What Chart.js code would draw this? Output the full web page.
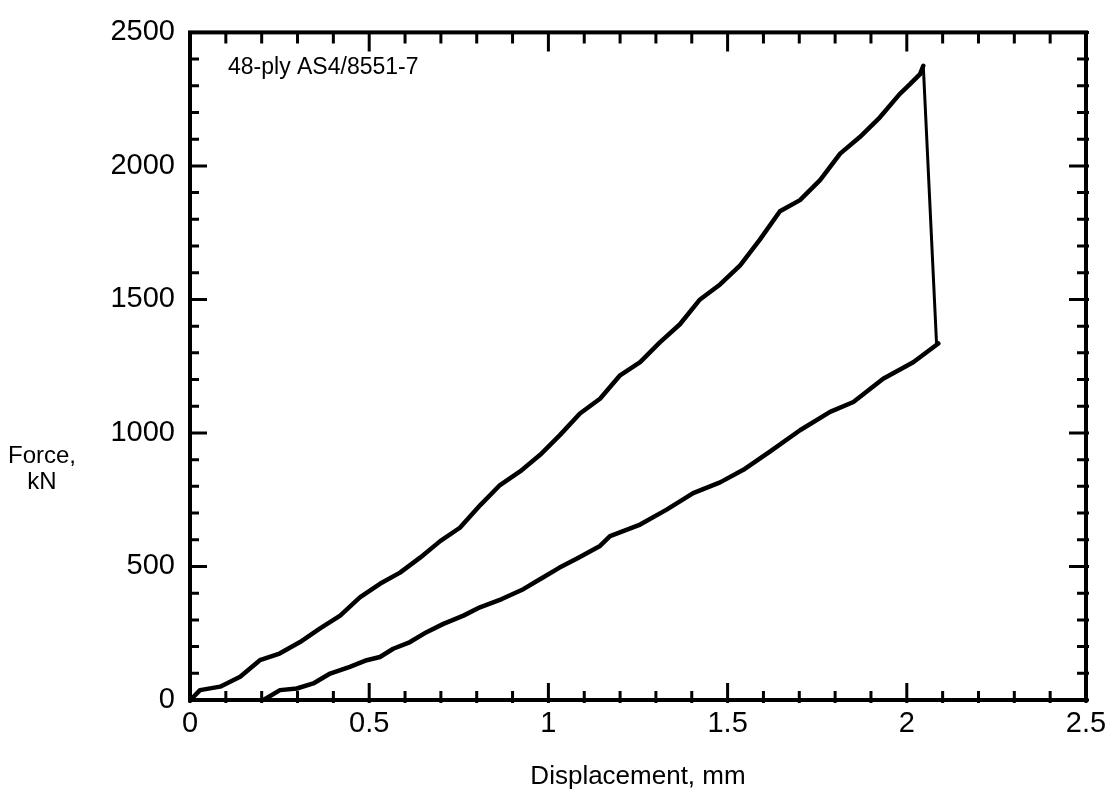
<!DOCTYPE html>
<html>
<head>
<meta charset="utf-8">
<title>Force vs displacement, 48-ply AS4/8551-7</title>
<script src="https://cdn.jsdelivr.net/npm/chart.js@4.4.1/dist/chart.umd.min.js"></script>
<style>
  html, body { margin: 0; padding: 0; background: #fff; }
  #wrap { width: 1116px; height: 794px; position: relative; }
</style>
</head>
<body>
<div id="wrap"><canvas id="chart" width="1116" height="794"></canvas></div>
<script>
// Loading branch: displacement (mm) and force (kN)
const loadDisp = [0, 0.01, 0.028, 0.084, 0.14, 0.195, 0.25, 0.307, 0.363, 0.419, 0.474, 0.53, 0.586, 0.642, 0.698, 0.753, 0.81, 0.865, 0.921, 0.977, 1.032, 1.088, 1.144, 1.2, 1.256, 1.311, 1.367, 1.423, 1.479, 1.535, 1.59, 1.646, 1.702, 1.758, 1.814, 1.869, 1.925, 1.98, 2.009, 2.037, 2.046];
const loadForce = [0, 12, 37, 50, 87, 149, 174, 217, 268, 316, 384, 435, 477, 533, 595, 645, 730, 805, 856, 918, 992, 1073, 1128, 1216, 1265, 1339, 1407, 1500, 1556, 1628, 1724, 1830, 1872, 1947, 2046, 2108, 2182, 2269, 2306, 2344, 2375];

// Failure drop from peak load
const dropDisp = [2.046, 2.083];
const dropForce = [2375, 1335];

// Reloading branch after failure
const reloadDisp = [2.088, 2.018, 1.934, 1.851, 1.786, 1.702, 1.618, 1.544, 1.479, 1.404, 1.33, 1.256, 1.172, 1.144, 1.08, 1.03, 0.98, 0.93, 0.87, 0.809, 0.763, 0.707, 0.66, 0.614, 0.567, 0.53, 0.493, 0.446, 0.391, 0.344, 0.298, 0.251, 0.205];
const reloadForce = [1335, 1265, 1203, 1116, 1079, 1010, 930, 862, 815, 775, 713, 657, 614, 577, 530, 495, 455, 415, 378, 347, 316, 285, 254, 217, 192, 161, 149, 124, 99, 62, 43, 37, 0];

// Axis tick labels
const xTickLabels = ['0', '0.5', '1', '1.5', '2', '2.5'];
const yTickLabels = ['0', '500', '1000', '1500', '2000', '2500'];

const specimenLabel = '48-ply AS4/8551-7';
const yTitleLines = ['Force,', 'kN'];
const xTitle = 'Displacement, mm';

const FONT = '"Liberation Sans", Arial, Helvetica, sans-serif';

function toPoints(xs, ys) {
  return xs.map((x, i) => ({ x: x, y: ys[i] }));
}

// Boxed frame with inward ticks on all four sides, plus the in-plot labels
const framePlugin = {
  id: 'frame',
  afterDraw(chart) {
    const { ctx, chartArea: a, scales } = chart;
    const xs = scales.x, ys = scales.y;
    ctx.save();
    ctx.strokeStyle = '#000';
    ctx.lineCap = 'butt';

    // ticks
    ctx.lineWidth = 3;
    const minorLen = 9, majorLen = 17;
    for (let i = 0; i <= 25; i++) {
      const px = xs.getPixelForValue(i / 10);
      const len = (i % 5 === 0) ? majorLen : minorLen;
      ctx.beginPath();
      ctx.moveTo(px, a.bottom + 3);
      ctx.lineTo(px, a.bottom - len);
      ctx.moveTo(px, a.top);
      ctx.lineTo(px, a.top + len + 2);
      ctx.stroke();
    }
    for (let i = 0; i <= 25; i++) {
      const py = ys.getPixelForValue(i * 100);
      const len = (i % 5 === 0) ? majorLen : minorLen;
      ctx.beginPath();
      ctx.moveTo(a.left, py);
      ctx.lineTo(a.left + len, py);
      ctx.moveTo(a.right + 3, py);
      ctx.lineTo(a.right - len, py);
      ctx.stroke();
    }

    // frame
    ctx.lineWidth = 4;
    ctx.strokeRect(a.left, a.top, a.right - a.left, a.bottom - a.top);

    // specimen label
    ctx.fillStyle = '#000';
    ctx.font = '23px ' + FONT;
    ctx.textAlign = 'left';
    ctx.textBaseline = 'alphabetic';
    ctx.fillText(specimenLabel, 228, 74);

    // horizontal y-axis title
    ctx.font = '24px ' + FONT;
    ctx.textAlign = 'center';
    ctx.textBaseline = 'middle';
    ctx.fillText(yTitleLines[0], 42, 456);
    ctx.fillText(yTitleLines[1], 42, 482);
    ctx.restore();
  }
};

const lineStyle = {
  showLine: true,
  borderColor: '#000',
  backgroundColor: '#000',
  pointRadius: 0,
  fill: false,
  tension: 0,
  borderJoinStyle: 'round',
  borderCapStyle: 'round'
};

new Chart(document.getElementById('chart'), {
  type: 'scatter',
  data: {
    datasets: [
      Object.assign({ label: 'Loading', data: toPoints(loadDisp, loadForce), borderWidth: 4.5 }, lineStyle),
      Object.assign({ label: 'Failure', data: toPoints(dropDisp, dropForce), borderWidth: 3 }, lineStyle),
      Object.assign({ label: 'Reloading', data: toPoints(reloadDisp, reloadForce), borderWidth: 4.5 }, lineStyle)
    ]
  },
  options: {
    responsive: false,
    animation: false,
    devicePixelRatio: 1,
    layout: { padding: { left: 0, right: 30, top: 28, bottom: 0 } },
    plugins: {
      legend: { display: false },
      tooltip: { enabled: false },
      title: { display: false }
    },
    scales: {
      x: {
        type: 'linear',
        min: 0,
        max: 2.5,
        grid: { display: false, drawTicks: false },
        border: { display: false },
        ticks: {
          stepSize: 0.5,
          padding: 7,
          maxRotation: 0,
          autoSkip: false,
          color: '#000',
          font: { family: FONT, size: 29 },
          callback: (v, i) => xTickLabels[i]
        },
        title: {
          display: true,
          text: xTitle,
          color: '#000',
          font: { family: FONT, size: 26 },
          padding: { top: 0, bottom: 2 }
        },
        afterFit(s) { s.height = 94; }
      },
      y: {
        type: 'linear',
        min: 0,
        max: 2500,
        grid: { display: false, drawTicks: false },
        border: { display: false },
        ticks: {
          stepSize: 500,
          padding: 15,
          autoSkip: false,
          color: '#000',
          font: { family: FONT, size: 29 },
          callback: (v, i) => yTickLabels[i]
        },
        afterFit(s) { s.width = 190; }
      }
    }
  },
  plugins: [framePlugin]
});
</script>
</body>
</html>
